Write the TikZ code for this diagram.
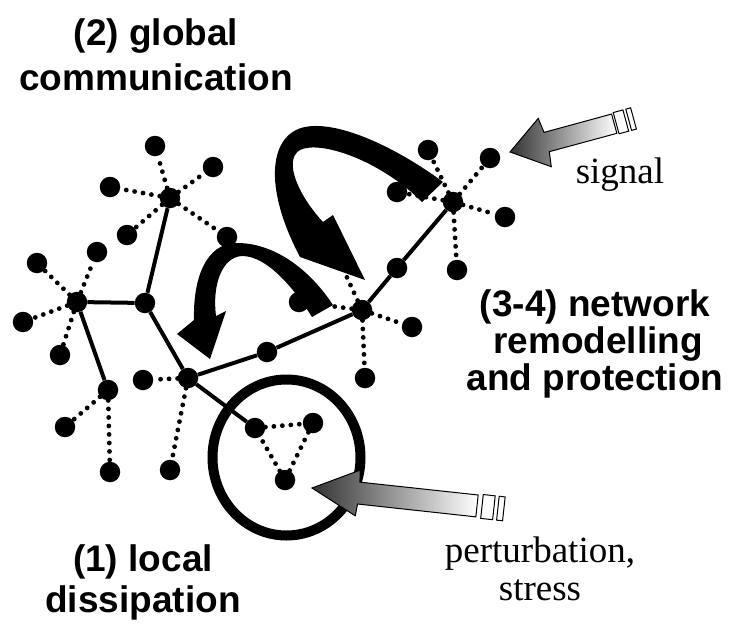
\documentclass[tikz,border=0pt]{standalone}
\usepackage{fontspec}
\setmainfont{Liberation Serif}
\setsansfont{Liberation Sans}

\begin{document}
\begin{tikzpicture}[x=1pt, y=-1pt,
    dot/.style={circle, fill=black, inner sep=0pt, minimum size=20.5pt},
    bond/.style={line width=4pt},
    weakbond/.style={line width=4.8pt, line cap=round, dash pattern=on 0pt off 8.5pt},
    headtext/.style={font=\sffamily\bfseries\fontsize{37}{40}\selectfont, anchor=base, inner sep=0pt},
    sidetext/.style={font=\fontsize{37}{40}\selectfont, anchor=base, inner sep=0pt}]
    \path[use as bounding box, fill=white] (0,0) rectangle (729,624);

    % Nodes
    \node (hubL) at (77,302) [dot] {};
    \node (l1) at (37,263) [dot] {};
    \node (l2) at (97,252) [dot] {};
    \node (l3) at (23,322) [dot] {};
    \node (l4) at (60,355) [dot] {};

    \node (hubM) at (145,303) [dot] {};

    \node (hubT) at (170,198) [dot] {};
    \node (t1) at (155,146) [dot] {};
    \node (t2) at (213,167) [dot] {};
    \node (t3) at (110,187) [dot] {};
    \node (t4) at (127,235) [dot] {};
    \node (t5) at (227,237) [dot] {};

    \node (hubE) at (108,390) [dot] {};
    \node (e1) at (65,427) [dot] {};
    \node (e2) at (110,472) [dot] {};

    \node (hubD) at (188,378) [dot] {};
    \node (d1) at (143,380) [dot] {};
    \node (d2) at (170,470) [dot] {};

    \node (tri1) at (255,428) [dot] {};
    \node (tri2) at (313,423) [dot] {};
    \node (tri3) at (285,480) [dot] {};

    \node (mid1) at (267,352) [dot] {};
    \node (hubF) at (362,310) [dot] {};
    \node (f1) at (412,327) [dot] {};
    \node (f2) at (365,378) [dot] {};
    \coordinate (f3) at (338,258);
    \node (f4) at (299,302) [dot] {};

    \node (mid2) at (397,268) [dot] {};
    \node (hubH) at (453,202) [dot] {};
    \node (h1) at (490,158) [dot] {};
    \node (h2) at (505,217) [dot] {};
    \node (h3) at (457,270) [dot] {};
    \node (h4) at (428,150) [dot] {};
    \node (h5) at (397,192) [dot] {};

    % Strong links
    \draw[bond] (hubL) -- (hubM) -- (hubT);
    \draw[bond] (hubL) -- (hubE);
    \draw[bond] (hubM) -- (hubD) -- (mid1) -- (hubF) -- (mid2) -- (hubH);
    \draw[bond] (hubD) -- (tri1);

    % Weak links
    \draw[weakbond] (hubL) -- (l1) (hubL) -- (l2) (hubL) -- (l3) (hubL) -- (l4);
    \draw[weakbond] (hubT) -- (t1) (hubT) -- (t2) (hubT) -- (t3) (hubT) -- (t4) (hubT) -- (t5);
    \draw[weakbond] (hubE) -- (e1) (hubE) -- (e2);
    \draw[weakbond] (hubD) -- (d1) (hubD) -- (d2);
    \draw[weakbond] (tri1) -- (tri2) -- (tri3) -- (tri1);
    \draw[weakbond] (hubF) -- (f1) (hubF) -- (f2) (hubF) -- (f3) (hubF) -- (f4);
    \draw[weakbond] (hubH) -- (h1) (hubH) -- (h2) (hubH) -- (h3) (hubH) -- (h4) (hubH) -- (h5);

    % Local ring
    \draw[line width=10pt] (286.5,457.5) ellipse [x radius=74pt, y radius=78pt];

    % Curved arrows
    \fill (443,182) .. controls (400,150) and (340,120) .. (305,127)
        .. controls (270,134) and (262,185) .. (300,257) -- (365,280) -- (333,215) -- (323,222)
        .. controls (298,195) and (283,160) .. (300,150)
        .. controls (320,140) and (380,160) .. (422,202) -- cycle;
    \fill (333,305) .. controls (310,270) and (275,243) .. (237,243)
        .. controls (205,243) and (193,280) .. (194,320) -- (177,334) -- (210,359) -- (226,311) -- (216,316)
        .. controls (212,285) and (222,257) .. (242,256)
        .. controls (268,256) and (295,290) .. (312,317) -- cycle;

    % Signal arrow
    \begin{scope}[shift={(510,152)}, rotate=15.2]
        \shade[draw=black, line width=1pt, left color=black!80, right color=white]
            (0,0) -- (36,-25) -- (38,-10) -- (108,-10) -- (108,10) -- (38,10) -- (36,25) -- cycle;
        \draw[line width=1pt, fill=white] (110,-11) rectangle (120,11);
        \draw[line width=1pt, fill=white] (123,-11) rectangle (128,11);
    \end{scope}

    % Perturbation arrow
    \begin{scope}[shift={(312,488)}, rotate=-6.2]
        \shade[draw=black, line width=1pt, left color=black!80, right color=white]
            (0,0) -- (46,-23) -- (47,-11) -- (166,-11) -- (166,11) -- (47,11) -- (46,23) -- cycle;
        \draw[line width=1pt, fill=white] (171,-12) rectangle (183,12);
        \draw[line width=1pt, fill=white] (187,-12) rectangle (193,12);
    \end{scope}

    % Descriptive text
    \node (glob) at (156,45) [headtext] {(2) global};
    \node (comm) at (156,90) [headtext] {communication};
    \node (netw) at (595,316) [headtext] {(3-4) network};
    \node (remod) at (598,353) [headtext] {remodelling};
    \node (prot) at (595,390) [headtext] {and protection};
    \node (local) at (143,571) [headtext] {(1) local};
    \node (dissip) at (143,612) [headtext] {dissipation};
    \node (sig) at (620,183) [sidetext] {signal};
    \node (pert) at (540,562) [sidetext] {perturbation,};
    \node (stress) at (540,600) [sidetext] {stress};
\end{tikzpicture}
\end{document}
